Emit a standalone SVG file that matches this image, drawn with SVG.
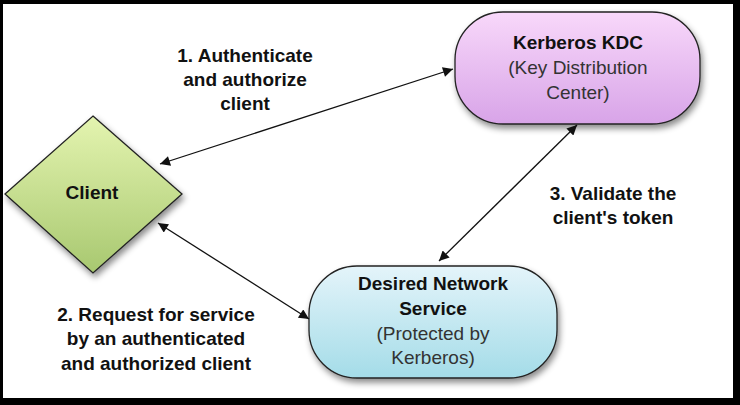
<svg xmlns="http://www.w3.org/2000/svg" width="740" height="405" viewBox="0 0 740 405">
<style>
text{font-family:"Liberation Sans",Arial,sans-serif;font-size:19px;text-anchor:middle;fill:#111}
.b{font-weight:bold}
.n{fill:#333}
.node{stroke:#222;stroke-width:1.3}
.c{stroke:#111;stroke-width:1.3;fill:none;marker-start:url(#a);marker-end:url(#a)}
</style>
<defs>
<marker id="a" viewBox="0 0 10 10" refX="10" refY="5" markerWidth="11" markerHeight="10" markerUnits="userSpaceOnUse" orient="auto-start-reverse"><path d="M0,0L10,5L0,10z" fill="#111"/></marker>
<linearGradient id="gp" x1="0" y1="0" x2="0" y2="1"><stop offset="0" stop-color="#f8d8fa"/><stop offset="1" stop-color="#d8a4e8"/></linearGradient>
<linearGradient id="gb" x1="0" y1="0" x2="0" y2="1"><stop offset="0" stop-color="#e4f4fa"/><stop offset="1" stop-color="#a4dce8"/></linearGradient>
<linearGradient id="gg" x1="0" y1="0" x2="0" y2="1"><stop offset="0" stop-color="#e4f4b0"/><stop offset="1" stop-color="#a8c870"/></linearGradient>
<filter id="s" x="-10%" y="-10%" width="130%" height="140%"><feDropShadow dx="2" dy="4" stdDeviation="3" flood-color="#000" flood-opacity="0.45"/></filter>
</defs>
<rect x="0" y="0" width="740" height="405" fill="#fff"/>
<path d="M0,0H740V405H0z M3,4V398H733V4z" fill="#000" fill-rule="evenodd"/>
<g id="kdc">
<rect class="node" x="455" y="12" width="245" height="112" rx="48" fill="url(#gp)" filter="url(#s)"/>
<text class="b" x="578" y="49">Kerberos KDC</text>
<text class="n" x="578" y="74">(Key Distribution</text>
<text class="n" x="578" y="99">Center)</text>
</g>
<g id="client">
<path class="node" d="M93,116L182,194L93,273L5,194z" fill="url(#gg)" filter="url(#s)"/>
<text class="b" x="92" y="199">Client</text>
</g>
<g id="service">
<rect class="node" x="309" y="266" width="248" height="112" rx="48" fill="url(#gb)" filter="url(#s)"/>
<text class="b" x="433" y="290">Desired Network</text>
<text class="b" x="433" y="315">Service</text>
<text class="n" x="433" y="340">(Protected by</text>
<text class="n" x="433" y="364">Kerberos)</text>
</g>
<g id="connectors">
<line class="c" x1="160" y1="164" x2="453" y2="69"/>
<line class="c" x1="158" y1="223" x2="309" y2="319"/>
<line class="c" x1="577" y1="125" x2="439" y2="261"/>
</g>
<g id="labels">
<text class="b" x="245" y="62">1. Authenticate</text>
<text class="b" x="245" y="86">and authorize</text>
<text class="b" x="245" y="110">client</text>
<text class="b" x="613" y="200">3. Validate the</text>
<text class="b" x="613" y="224">client's token</text>
<text class="b" x="156" y="321">2. Request for service</text>
<text class="b" x="156" y="345">by an authenticated</text>
<text class="b" x="156" y="370">and authorized client</text>
</g>
</svg>
